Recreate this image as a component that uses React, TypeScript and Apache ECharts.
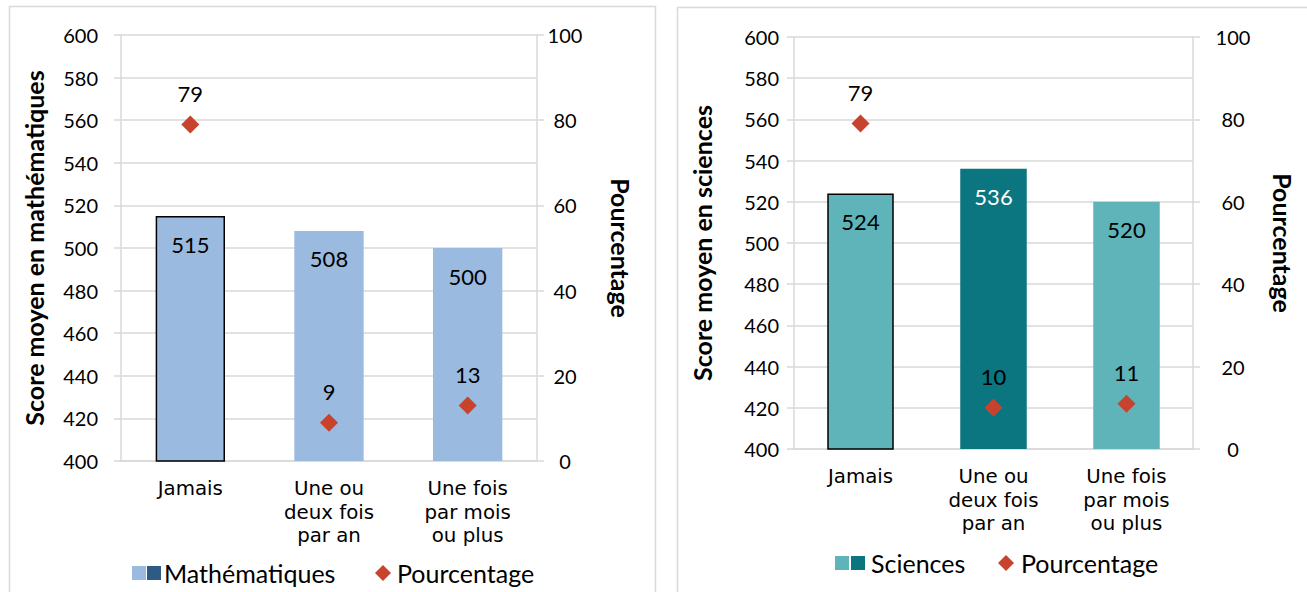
import React, { useEffect, useRef } from "react";
import * as echarts from "echarts";

const categories = ["Jamais", "Une ou\ndeux fois\npar an", "Une fois\npar mois\nou plus"];
const mathScores = [515, 508, 500];
const mathPct = [79, 9, 13];
const sciScores = [524, 536, 520];
const sciPct = [79, 10, 11];
const scoreTicks = { min: 400, max: 600, interval: 20 };
const pctTicks = { min: 0, max: 100, interval: 20 };

const FONT = "Lato";
const CAT_FONT = "DejaVu Sans";
const GRID_C = "#d9d9d9";
const MATH_LIGHT = "#9bbadf";
const MATH_DARK = "#2c5b84";
const SCI_LIGHT = "#5eb4b8";
const SCI_DARK = "#0b7580";
const MARK = "#c8432d";

export default function App() {
  const ref = useRef<HTMLDivElement>(null);
  useEffect(() => {
    document.body.style.margin = "0";
    const chart = echarts.init(ref.current!, undefined, { renderer: "svg" });
    const xAxisBase = (gridIndex: number, margin: number) => ({
      type: "category",
      gridIndex,
      data: categories,
      axisLine: { lineStyle: { color: GRID_C, width: 1.5 } },
      axisTick: { show: false },
      axisLabel: { color: "#000", fontFamily: CAT_FONT, fontSize: 19.8, lineHeight: 23.5, margin },
    });
    const scoreAxis = (gridIndex: number, name: string, nameGap: number, margin: number) => ({
      type: "value",
      gridIndex,
      position: "left",
      ...scoreTicks,
      name,
      nameLocation: "middle",
      nameGap,
      nameTextStyle: { color: "#000", fontFamily: FONT, fontSize: 25, fontWeight: "bold" },
      axisLine: { show: true, lineStyle: { color: GRID_C, width: 1.5 } },
      axisTick: { show: true, length: 7, lineStyle: { color: GRID_C, width: 1.5 } },
      axisLabel: { color: "#000", fontFamily: FONT, fontSize: 20, margin },
      splitLine: { show: true, lineStyle: { color: GRID_C, width: 1.5 } },
    });
    const pctAxis = (gridIndex: number, nameGap: number, margin: number) => ({
      type: "value",
      gridIndex,
      position: "right",
      ...pctTicks,
      name: "Pourcentage",
      nameLocation: "middle",
      nameGap,
      nameRotate: -90,
      nameTextStyle: { color: "#000", fontFamily: FONT, fontSize: 25, fontWeight: "bold" },
      axisLine: { show: true, lineStyle: { color: GRID_C, width: 1.5 } },
      axisTick: { show: true, length: 7, lineStyle: { color: GRID_C, width: 1.5 } },
      axisLabel: { color: "#000", fontFamily: FONT, fontSize: 20, margin, align: "center" },
      splitLine: { show: false },
    });
    const barSeries = (idx: number, data: number[], light: string, darkIdx: number) => ({
      type: "bar",
      xAxisIndex: idx,
      yAxisIndex: idx * 2,
      barWidth: "50%",
      data: data.map((v, i) => ({
        value: v,
        itemStyle:
          i === 0
            ? { color: light, borderColor: "#000", borderWidth: 1.5 }
            : i === darkIdx
            ? { color: SCI_DARK }
            : { color: light },
        label: i === darkIdx ? { color: "#fff" } : {},
      })),
      label: {
        show: true,
        position: "insideTop",
        distance: 17,
        color: "#000",
        fontFamily: FONT,
        fontSize: 22,
      },
    });
    const pctSeries = (idx: number, data: number[]) => ({
      type: "scatter",
      xAxisIndex: idx,
      yAxisIndex: idx * 2 + 1,
      symbol: "diamond",
      symbolSize: 18,
      itemStyle: { color: MARK, opacity: 1 },
      data,
      label: {
        show: true,
        position: "top",
        distance: 11,
        color: "#000",
        fontFamily: FONT,
        fontSize: 22,
      },
    });
    const txt = (x: number, y: number, text: string) => ({
      type: "text",
      x,
      y,
      style: { text, fill: "#000", font: `25px ${FONT}`, textVerticalAlign: "middle" },
    });
    const sq = (x: number, y: number, color: string) => ({
      type: "rect",
      shape: { x, y: y - 7, width: 14, height: 14 },
      style: { fill: color },
    });
    const dia = (cx: number, cy: number) => ({
      type: "polygon",
      shape: { points: [[cx, cy - 8], [cx + 8, cy], [cx, cy + 8], [cx - 8, cy]] },
      style: { fill: MARK },
    });
    chart.setOption({
      animation: false,
      grid: [
        { left: 121, top: 35, width: 416, height: 426 },
        { left: 794, top: 37, width: 399, height: 412 },
      ],
      xAxis: [xAxisBase(0, 16), xAxisBase(1, 16)],
      yAxis: [
        scoreAxis(0, "Score moyen en mathématiques", 75, 23),
        pctAxis(0, 71, 28),
        scoreAxis(1, "Score moyen en sciences", 80, 15),
        pctAxis(1, 77, 40),
      ],
      series: [
        barSeries(0, mathScores, MATH_LIGHT, -1),
        pctSeries(0, mathPct),
        barSeries(1, sciScores, SCI_LIGHT, 1),
        pctSeries(1, sciPct),
      ],
      graphic: [
        { type: "rect", shape: { x: 9.5, y: 6.5, width: 646, height: 600 }, style: { fill: "none", stroke: GRID_C, lineWidth: 1.5 } },
        { type: "rect", shape: { x: 677.5, y: 7.5, width: 640, height: 600 }, style: { fill: "none", stroke: GRID_C, lineWidth: 1.5 } },
        sq(132, 573, MATH_LIGHT),
        sq(147, 573, MATH_DARK),
        txt(164, 573, "Mathématiques"),
        dia(383, 573),
        txt(397, 573, "Pourcentage"),
        sq(835, 563, SCI_LIGHT),
        sq(851, 563, SCI_DARK),
        txt(871, 563, "Sciences"),
        dia(1006, 563),
        txt(1021, 563, "Pourcentage"),
      ],
    });
    return () => chart.dispose();
  }, []);
  return <div ref={ref} style={{ width: 1307, height: 592 }} />;
}
